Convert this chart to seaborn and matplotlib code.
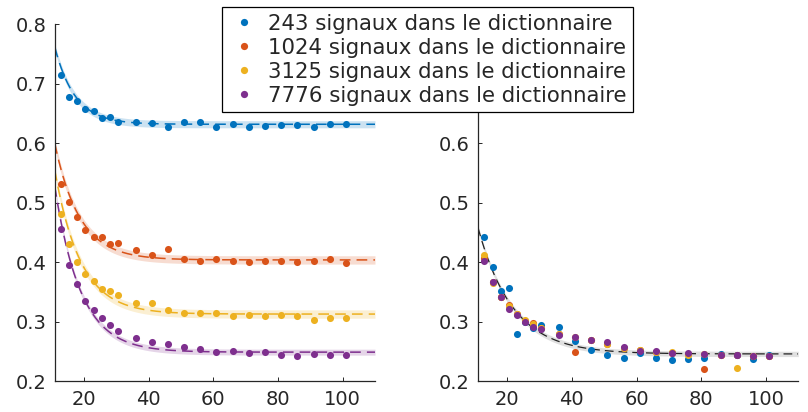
import numpy as np
import pandas as pd
import matplotlib
matplotlib.use("Agg")
import matplotlib.pyplot as plt
from matplotlib.lines import Line2D
import seaborn as sns

# ---------------- data ----------------
x_vals = [13, 15.5, 18, 20.5, 23, 25.5, 28, 30.5, 36, 41, 46, 51, 56, 61,
          66, 71, 76, 81, 86, 91, 96, 101]

labels = ["243 signaux dans le dictionnaire",
          "1024 signaux dans le dictionnaire",
          "3125 signaux dans le dictionnaire",
          "7776 signaux dans le dictionnaire"]

# left panel
left_243 = [0.714, 0.677, 0.671, 0.658, 0.655, 0.643, 0.644, 0.636, 0.636, 0.634, 0.627,
            0.635, 0.636, 0.627, 0.632, 0.627, 0.629, 0.631, 0.631, 0.627, 0.632, 0.632]
left_1024 = [0.532, 0.501, 0.476, 0.455, 0.442, 0.442, 0.431, 0.432, 0.420, 0.412, 0.422,
             0.406, 0.403, 0.405, 0.403, 0.401, 0.403, 0.402, 0.401, 0.402, 0.405, 0.398]
left_3125 = [0.482, 0.430, 0.401, 0.381, 0.369, 0.355, 0.351, 0.345, 0.332, 0.332, 0.320,
             0.314, 0.315, 0.315, 0.310, 0.312, 0.310, 0.312, 0.309, 0.303, 0.306, 0.307]
left_7776 = [0.456, 0.396, 0.364, 0.335, 0.320, 0.306, 0.294, 0.284, 0.273, 0.266, 0.262,
             0.257, 0.254, 0.249, 0.251, 0.248, 0.249, 0.244, 0.243, 0.246, 0.244, 0.245]

# right panel
right_243 = [0.443, 0.392, 0.352, 0.356, 0.280, 0.300, 0.289, 0.294, 0.291, 0.267, 0.252,
             0.244, 0.240, 0.248, 0.239, 0.236, 0.237, 0.239, 0.246, 0.244, 0.237, 0.244]
right_1024 = [0.407, 0.367, 0.342, 0.328, 0.313, 0.301, 0.298, 0.290, 0.279, 0.250, 0.270,
              0.262, 0.256, 0.252, 0.250, 0.248, 0.246, 0.221, 0.244, 0.245, 0.243, 0.243]
right_3125 = [0.413, 0.365, 0.342, 0.326, 0.313, 0.303, 0.297, 0.290, 0.279, 0.274, 0.270,
              0.262, 0.256, 0.252, 0.249, 0.249, 0.244, 0.246, 0.245, 0.222, 0.243, 0.243]
right_7776 = [0.403, 0.367, 0.341, 0.322, 0.312, 0.300, 0.292, 0.288, 0.278, 0.274, 0.270,
              0.266, 0.257, 0.251, 0.251, 0.247, 0.248, 0.246, 0.245, 0.244, 0.243, 0.243]

# fitted curves  y = a + b*exp(-(x - 11)/tau), parameters
fit_a = [0.632, 0.404, 0.313, 0.249]
fit_b = [0.130, 0.196, 0.242, 0.279]
fit_tau = [6.3, 7.7, 8.0, 8.0]
fit_band = [0.006, 0.007, 0.007, 0.005]
common_a, common_b, common_tau, common_band = 0.246, 0.212, 10.8, 0.0045

yticks = [0.2, 0.3, 0.4, 0.5, 0.6, 0.7, 0.8]
ytick_labels = ["0.2", "0.3", "0.4", "0.5", "0.6", "0.7", "0.8"]
xticks = [20, 40, 60, 80, 100]

colors = ["#0072BD", "#D95319", "#EDB120", "#7E2F8E"]

# ---------------- figure ----------------
sns.set_style("white")
plt.rcParams["font.family"] = ["DejaVu Sans"]

fig = plt.figure(figsize=(8.08, 4.12), dpi=100)
axL = fig.add_axes([54.7 / 808, 1 - 381.3 / 412, 320.3 / 808, 357 / 412])
axR = fig.add_axes([478 / 808, 1 - 381.3 / 412, 320.3 / 808, 357 / 412])

xf = np.linspace(11, 110, 300)
left_series = [left_243, left_1024, left_3125, left_7776]
right_series = [right_243, right_1024, right_3125, right_7776]

for i in range(4):
    yf = fit_a[i] + fit_b[i] * np.exp(-(xf - 11) / fit_tau[i])
    axL.fill_between(xf, yf - fit_band[i], yf + fit_band[i], color=colors[i],
                     alpha=0.2, linewidth=0)
    sns.lineplot(x=xf, y=yf, ax=axL, color=colors[i], linewidth=1.1,
                 linestyle=(0, (7, 4)), legend=False)
    df = pd.DataFrame({"x": x_vals, "y": left_series[i]})
    sns.scatterplot(data=df, x="x", y="y", ax=axL, color=colors[i], s=26,
                    linewidth=0, legend=False, zorder=3)

yc = common_a + common_b * np.exp(-(xf - 11) / common_tau)
axR.fill_between(xf, yc - common_band, yc + common_band, color="#9a9a9a",
                 alpha=0.3, linewidth=0)
sns.lineplot(x=xf, y=yc, ax=axR, color="#222222", linewidth=0.9,
             linestyle=(0, (7, 4)), legend=False)
for i in range(4):
    df = pd.DataFrame({"x": x_vals, "y": right_series[i]})
    sns.scatterplot(data=df, x="x", y="y", ax=axR, color=colors[i], s=26,
                    linewidth=0, legend=False, zorder=3)

for ax in (axL, axR):
    ax.set_xlim(11, 110)
    ax.set_ylim(0.2, 0.8)
    ax.set_xticks(xticks)
    ax.set_yticks(yticks)
    ax.set_xlabel("")
    ax.set_ylabel("")
    for s in ("top", "right"):
        ax.spines[s].set_visible(False)
    for s in ("left", "bottom"):
        ax.spines[s].set_color("#262626")
        ax.spines[s].set_linewidth(0.9)
    ax.tick_params(direction="in", length=3, width=0.7, colors="#262626",
                   labelsize=14, pad=6, left=True, bottom=True)
    ax.patch.set_alpha(0)

axL.set_yticklabels(ytick_labels)
# on the right panel the 0.7 and 0.8 labels are hidden behind the legend
axR.set_yticklabels([t if v < 0.65 else "" for v, t in zip(yticks, ytick_labels)])

handles = [Line2D([0], [0], marker="o", linestyle="none", color=c,
                  markersize=5.2, markeredgewidth=0) for c in colors]
leg = fig.legend(handles, labels, loc="upper left",
                 bbox_to_anchor=(221.7 / 808, 1 - 7.3 / 412),
                 bbox_transform=fig.transFigure, borderaxespad=0,
                 fontsize=15.3, frameon=True, fancybox=False, framealpha=1,
                 edgecolor="#000000", labelspacing=0.19, handlelength=1.48,
                 handletextpad=0.39, borderpad=0.3)
leg.get_frame().set_linewidth(0.9)

fig.savefig("out.png", dpi=100)
